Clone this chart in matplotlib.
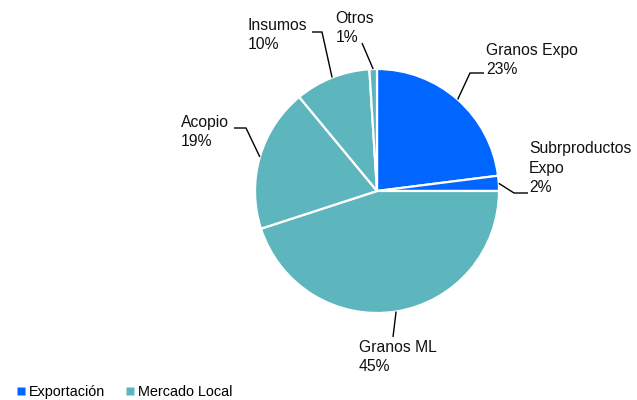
import numpy as np
import matplotlib.pyplot as plt
from matplotlib.lines import Line2D

plt.rcParams['font.family'] = ['Liberation Sans', 'DejaVu Sans']

# Slices, clockwise from 12 o'clock
labels = ['Granos Expo', 'Subrproductos\nExpo', 'Granos ML', 'Acopio', 'Insumos', 'Otros']
values = [23, 2, 45, 19, 10, 1]
groups = ['Exportación', 'Exportación', 'Mercado Local', 'Mercado Local', 'Mercado Local', 'Mercado Local']
group_names = ['Exportación', 'Mercado Local']
group_colors = {'Exportación': '#0066FF', 'Mercado Local': '#5DB6BD'}

# Label layout (pixels from top-left of a 637x400 image):
# elbow point, end of leader line, text anchor, alignment
layout = {
    'Granos Expo': dict(elbow=(470, 73), end=(484, 73), txt=(486, 60), ha='left'),
    'Subrproductos\nExpo': dict(elbow=(514, 193), end=(528, 193), txt=(529, 168), ha='left'),
    'Granos ML': dict(elbow=(393, 337), end=(393, 337), txt=(398, 357), ha='center'),
    'Acopio': dict(elbow=(246, 128), end=(234, 128), txt=(229, 132), ha='right'),
    'Insumos': dict(elbow=(322, 32), end=(312, 32), txt=(307, 35), ha='right'),
    'Otros': dict(elbow=(362, 43), end=(362, 43), txt=(374, 28), ha='right'),
}

W, H = 637, 400
cx, cy, R = 377, 191, 122


def to_data(p):
    return (p[0] - cx) / R, (cy - p[1]) / R


fig = plt.figure(figsize=(W / 100, H / 100), dpi=100)
ax = fig.add_axes([0, 0, 1, 1])

colors = [group_colors[g] for g in groups]
wedges, _ = ax.pie(values, colors=colors, startangle=90, counterclock=False,
                   radius=1, center=(0, 0), frame=True,
                   wedgeprops=dict(edgecolor='white', linewidth=1.6))
ax.set_xlim(-cx / R, (W - cx) / R)
ax.set_ylim(-(H - cy) / R, cy / R)
ax.set_aspect('equal')
ax.axis('off')

total = float(sum(values))
for w, lab, v in zip(wedges, labels, values):
    mid = np.deg2rad((w.theta1 + w.theta2) / 2.0)
    edge = (np.cos(mid), np.sin(mid))
    lay = layout[lab]
    ex, ey = to_data(lay['elbow'])
    nx, ny = to_data(lay['end'])
    ax.plot([edge[0], ex, nx], [edge[1], ey, ny], color='black', lw=1.0,
            solid_capstyle='butt')
    tx, ty = to_data(lay['txt'])
    ax.text(tx, ty, '{}\n{:.0f}%'.format(lab, 100 * v / total), ha=lay['ha'],
            va='center', multialignment='left', fontsize=11.3,
            linespacing=1.38, color='#111111')

handles = [Line2D([], [], marker='s', linestyle='none', markersize=6,
                  markerfacecolor=group_colors[g], markeredgecolor='none')
           for g in group_names]
fig.legend(handles, group_names, loc='center left',
           bbox_to_anchor=(10 / W, 1 - 392 / H), ncol=2, frameon=False,
           fontsize=10.4, handlelength=0.7, handletextpad=0.2,
           columnspacing=1.4, borderaxespad=0)

fig.savefig('out.png', dpi=100)
